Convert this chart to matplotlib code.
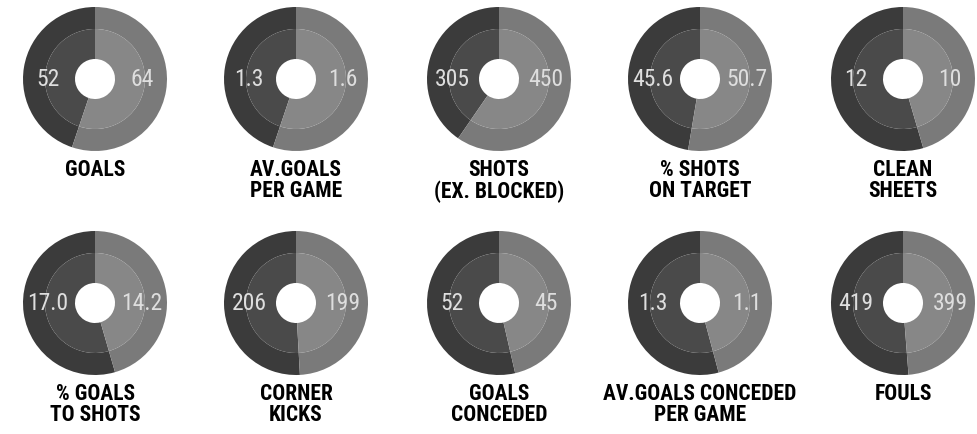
import matplotlib
matplotlib.use('Agg')
import matplotlib.pyplot as plt
from matplotlib import font_manager

# 통계 이름 (두 줄 라벨)
labels = ['GOALS', 'AV.GOALS\nPER GAME', 'SHOTS\n(EX. BLOCKED)', '% SHOTS\nON TARGET', 'CLEAN\nSHEETS',
          '% GOALS\nTO SHOTS', 'CORNER\nKICKS', 'GOALS\nCONCEDED', 'AV.GOALS CONCEDED\nPER GAME', 'FOULS']
# 왼쪽(어두운) / 오른쪽(밝은) 값
left_vals = [52, 1.3, 305, 45.6, 12, 17.0, 206, 52, 1.3, 419]
right_vals = [64, 1.6, 450, 50.7, 10, 14.2, 199, 45, 1.1, 399]
left_text = ['52', '1.3', '305', '45.6', '12', '17.0', '206', '52', '1.3', '419']
right_text = ['64', '1.6', '450', '50.7', '10', '14.2', '199', '45', '1.1', '399']

# 좁은 글씨체 찾기
ttf = font_manager.fontManager.ttflist
names = {f.name for f in ttf}
narrow = None
for cand in ['Liberation Sans Narrow', 'Roboto Condensed', 'Open Sans Condensed',
             'Noto Sans Condensed', 'DejaVu Sans Condensed']:
    if cand in names:
        narrow = cand
        break
if narrow is None:
    for f in ttf:
        if f.stretch in ('condensed', 'semi-condensed', 'extra-condensed') or 'Condensed' in f.fname:
            narrow = f.name
            break
cond = narrow is not None
if narrow is None:
    narrow = 'DejaVu Sans'

num_size = 17 if cond else 13
lab_size = 15.5 if cond else 12.5

W, H = 977, 434
fig = plt.figure(figsize=(W / 100, H / 100), dpi=100)
ax = fig.add_axes([0, 0, 1, 1])

col_x = [95, 296, 499, 700, 903]
row_y = [79, 303]
R_out, R_in, R_hole = 72, 50, 20

for i in range(10):
    cx = col_x[i % 5]
    cy = H - row_y[i // 5]
    vals = [left_vals[i], right_vals[i]]
    # 바깥 링
    ax.pie(vals, colors=['#3b3b3b', '#7a7a7a'], startangle=90, counterclock=True,
           center=(cx, cy), radius=R_out, frame=True,
           wedgeprops=dict(width=R_out - R_in, linewidth=0))
    # 안쪽 링
    ax.pie(vals, colors=['#4a4a4a', '#878787'], startangle=90, counterclock=True,
           center=(cx, cy), radius=R_in, frame=True,
           wedgeprops=dict(width=R_in - R_hole, linewidth=0))
    ax.text(cx - 47, cy, left_text[i], ha='center', va='center', fontsize=num_size,
            family=narrow, fontstretch='condensed', fontweight='normal', color='#dedede')
    ax.text(cx + 47, cy, right_text[i], ha='center', va='center', fontsize=num_size,
            family=narrow, fontstretch='condensed', fontweight='normal', color='#dedede')
    ax.text(cx, cy - 80, labels[i], ha='center', va='top', fontsize=lab_size,
            family=narrow, fontstretch='condensed', fontweight='bold', color='#000000',
            linespacing=0.95)

ax.set_xlim(0, W)
ax.set_ylim(0, H)
ax.set_aspect('equal')
ax.axis('off')

fig.savefig('out.png', dpi=100, facecolor='white')
